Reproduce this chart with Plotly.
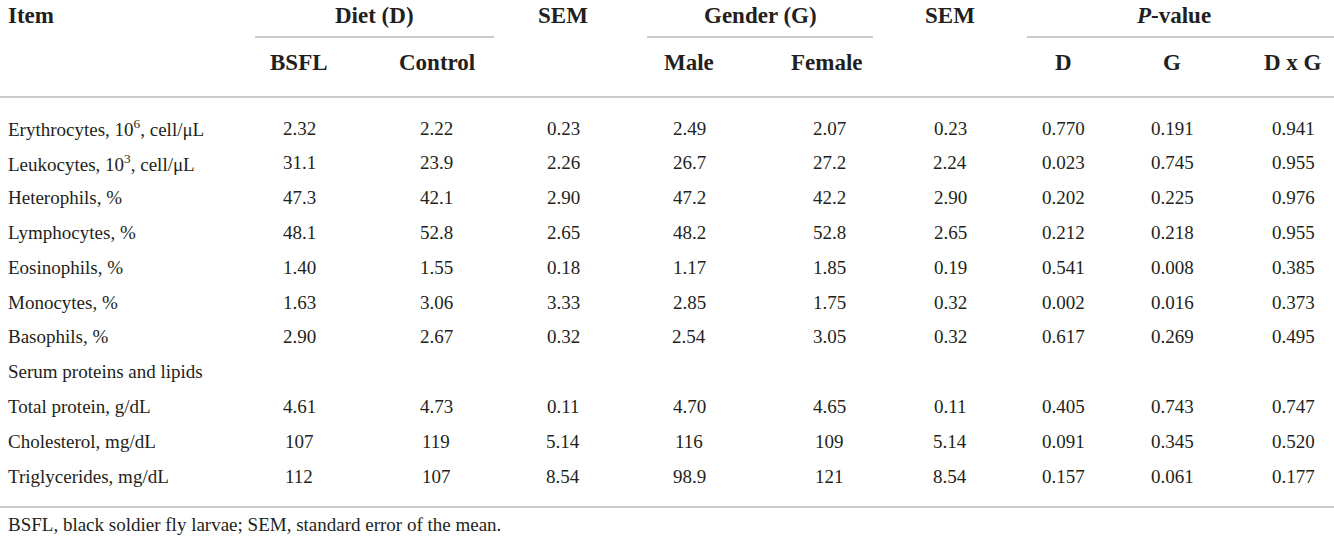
import plotly.graph_objects as go

# Данные таблицы
items = [
    'Erythrocytes, 10<sup>6</sup>, cell/μL',
    'Leukocytes, 10<sup>3</sup>, cell/μL',
    'Heterophils, %',
    'Lymphocytes, %',
    'Eosinophils, %',
    'Monocytes, %',
    'Basophils, %',
    'Serum proteins and lipids',
    'Total protein, g/dL',
    'Cholesterol, mg/dL',
    'Triglycerides, mg/dL',
]
bsfl = ['2.32', '31.1', '47.3', '48.1', '1.40', '1.63', '2.90', '', '4.61', '107', '112']
control = ['2.22', '23.9', '42.1', '52.8', '1.55', '3.06', '2.67', '', '4.73', '119', '107']
sem_diet = ['0.23', '2.26', '2.90', '2.65', '0.18', '3.33', '0.32', '', '0.11', '5.14', '8.54']
male = ['2.49', '26.7', '47.2', '48.2', '1.17', '2.85', '2.54', '', '4.70', '116', '98.9']
female = ['2.07', '27.2', '42.2', '52.8', '1.85', '1.75', '3.05', '', '4.65', '109', '121']
sem_gender = ['0.23', '2.24', '2.90', '2.65', '0.19', '0.32', '0.32', '', '0.11', '5.14', '8.54']
p_d = ['0.770', '0.023', '0.202', '0.212', '0.541', '0.002', '0.617', '', '0.405', '0.091', '0.157']
p_g = ['0.191', '0.745', '0.225', '0.218', '0.008', '0.016', '0.269', '', '0.743', '0.345', '0.061']
p_dg = ['0.941', '0.955', '0.976', '0.955', '0.385', '0.373', '0.495', '', '0.747', '0.520', '0.177']

group_headers = ['Diet (D)', 'SEM', 'Gender (G)', 'SEM', '<i>P</i>-value']
sub_headers = ['BSFL', 'Control', 'Male', 'Female', 'D', 'G', 'D x G']
footnote = 'BSFL, black soldier fly larvae; SEM, standard error of the mean.'

# Геометрия (пиксели)
W, H = 1334, 543
TEXT = '#231f20'
LINE = '#cccccc'
FONT = 'Liberation Serif'
BODY_SIZE = 19
HEAD_SIZE = 23

col_x = [299, 436, 563, 689, 829, 950, 1063, 1172, 1293]
group_x = [374, 563, 760, 950, 1173]
sub_x = [299, 437, 689, 827, 1063, 1172, 1293]
row_top, row_step = 128, 34.8
rows_y = [row_top + i * row_step for i in range(len(items))]

fig = go.Figure()

annotations = []

def add_text(x, y, text, size=BODY_SIZE, bold=False, anchor='center'):
    annotations.append(dict(
        x=x, y=y, xref='x', yref='y', text=f'<b>{text}</b>' if bold else text,
        showarrow=False, xanchor=anchor, yanchor='middle',
        font=dict(family=FONT, size=size, color=TEXT)
    ))

# Заголовки
add_text(6, 15, 'Item', size=HEAD_SIZE, bold=True, anchor='left')
for x, t in zip(group_x, group_headers):
    add_text(x, 15, t, size=HEAD_SIZE, bold=True)
for x, t in zip(sub_x, sub_headers):
    add_text(x, 62, t, size=HEAD_SIZE, bold=True)

# Тело таблицы
columns = [bsfl, control, sem_diet, male, female, sem_gender, p_d, p_g, p_dg]
for i, y in enumerate(rows_y):
    add_text(6, y, items[i], anchor='left')
    for x, col in zip(col_x, columns):
        if col[i]:
            add_text(x, y, col[i])

add_text(6, 524, footnote, anchor='left')

# Линии
shapes = []
for x0, x1 in [(255, 494), (647, 873), (1027, 1334)]:
    shapes.append(dict(type='line', x0=x0, x1=x1, y0=37, y1=37, xref='x', yref='y',
                       line=dict(color=LINE, width=2)))
for y in [97, 507]:
    shapes.append(dict(type='line', x0=0, x1=W, y0=y, y1=y, xref='x', yref='y',
                       line=dict(color=LINE, width=2)))

fig.update_layout(
    width=W, height=H,
    margin=dict(l=0, r=0, t=0, b=0),
    paper_bgcolor='white', plot_bgcolor='white',
    xaxis=dict(range=[0, W], visible=False, fixedrange=True),
    yaxis=dict(range=[H, 0], visible=False, fixedrange=True),
    annotations=annotations,
    shapes=shapes,
    showlegend=False,
)

fig.write_html('out.html', config={'displayModeBar': False},
               post_script="document.body.style.margin='0';")
